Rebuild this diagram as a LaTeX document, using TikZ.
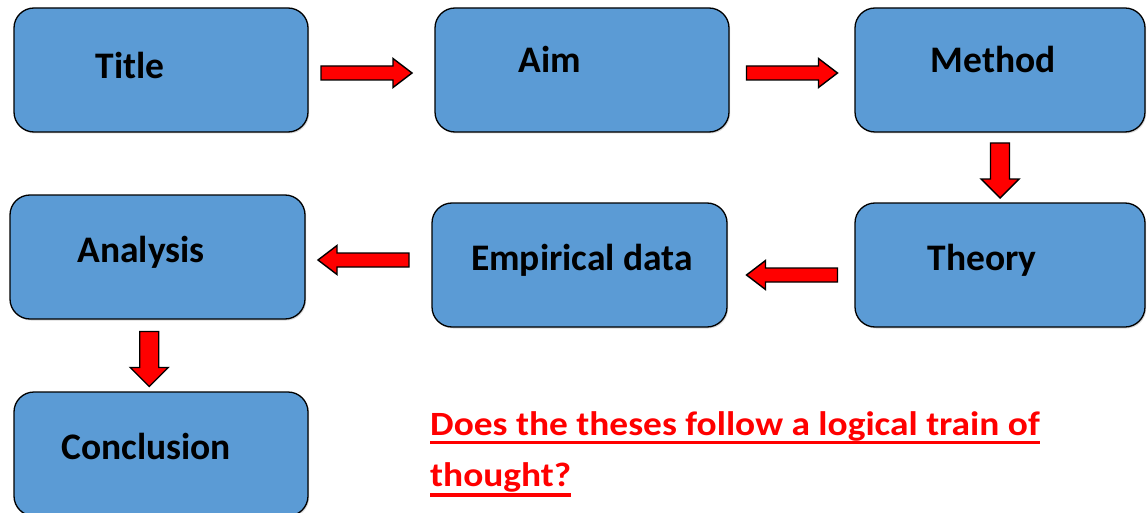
\documentclass[tikz,border=0pt]{standalone}
\usepackage{fontspec}
\setmainfont{Carlito}
\newfontfamily\questionfont[FakeStretch=1.1]{Carlito}
\usepackage{xcolor}
\usepackage{tikz}
\usetikzlibrary{calc,shadows}
\definecolor{boxblue}{HTML}{5B9BD5}
\definecolor{qred}{HTML}{FF0000}
\tikzset{
  stepbox/.style={draw=black, line width=1.3pt, fill=boxblue, rounded corners=20pt,
    minimum width=294pt, minimum height=124pt, inner sep=0pt,
    drop shadow={shadow xshift=1.2pt, shadow yshift=-1.5pt, opacity=0.3}},
  boxtext/.style={anchor=base, font=\bfseries\fontsize{37.5}{40}\selectfont, inner sep=0pt},
  qtext/.style={anchor=base west, inner sep=0pt, text=qred, font=\questionfont\bfseries\fontsize{34}{38}\selectfont},
  qline/.style={draw=qred, line width=3.5pt},
  arrowbody/.style={draw=black, fill=red, line width=1.4pt, line join=miter},
  pics/blockarrow/.style n args={4}{code={
    \draw[arrowbody] ({-#1/2},{-#2}) -- ({#1/2-#4},{-#2}) -- ({#1/2-#4},{-#3})
      -- ({#1/2},0) -- ({#1/2-#4},{#3}) -- ({#1/2-#4},{#2}) -- ({-#1/2},{#2}) -- cycle;
  }}
}

\begin{document}
\begin{tikzpicture}[x=1pt, y=1pt]
      \useasboundingbox (0,0) rectangle (1147,-513);

      % --- boxes ---
      \node[stepbox] (title) at (161,-70) {};
      \node[stepbox] (aim) at (582,-70) {};
      \node[stepbox, minimum width=290pt] (method) at (1000,-70) {};
      \node[stepbox, minimum width=295pt] (analysis) at (157.5,-257) {};
      \node[stepbox, minimum width=295pt] (empdata) at (579.5,-265) {};
      \node[stepbox, minimum width=290pt] (theory) at (1000,-265) {};
      \node[stepbox] (conclusion) at (161,-454) {};

      % --- labels in the boxes ---
      \node[boxtext] (titletxt) at (130,-79) {Title};
      \node[boxtext] (aimtxt) at (550,-73) {Aim};
      \node[boxtext] (methodtxt) at (993,-73) {Method};
      \node[boxtext] (analysistxt) at (141,-262) {Analysis};
      \node[boxtext] (empdatatxt) at (582,-270) {Empirical data};
      \node[boxtext] (theorytxt) at (982,-270) {Theory};
      \node[boxtext] (conclusiontxt) at (146,-459) {Conclusion};

      % --- block arrows between the boxes ---
      \pic at ($($(title.east)!0.5!(aim.west)$)+(-5,-3)$) {blockarrow={91}{7}{14.5}{19}};
      \pic at ($($(aim.east)!0.5!(method.west)$)+(0,-3)$) {blockarrow={91}{7}{14.5}{19}};
      \pic[rotate=-90] at ($($(method.south)!0.5!(theory.north)$)+(0,-3)$) {blockarrow={55}{9.5}{19}{19}};
      \pic[rotate=180] at ($($(theory.west)!0.5!(empdata.east)$)+(1,-10)$) {blockarrow={91}{7}{14.5}{19}};
      \pic[rotate=180] at ($($(empdata.west)!0.5!(analysis.east)$)+(-5,1)$) {blockarrow={91}{7}{14.5}{19}};
      \pic[rotate=-90] at ($($(analysis.south)!0.5!(conclusion.north)$)+(-10,-3.5)$) {blockarrow={55}{9.5}{19}{19}};

      % question, underlined
      \node[qtext] (question1) at (430,-435) {Does the theses follow a logical train of};
      \node[qtext] (question2) at (430,-486) {thought?};
      \draw[qline] ($(question1.base west)+(0,-7.5)$) -- ($(question1.base east)+(0,-7.5)$);
      \draw[qline] ($(question2.base west)+(0,-9)$) -- ($(question2.base east)+(0,-9)$);
\end{tikzpicture}
\end{document}
